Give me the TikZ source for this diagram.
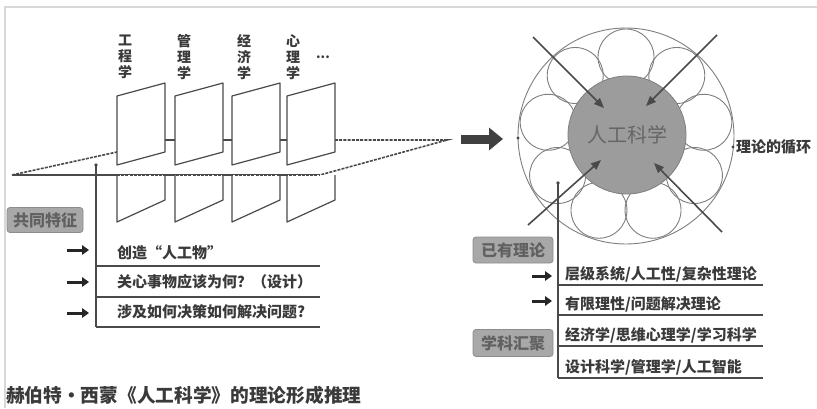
\documentclass[tikz,border=0pt]{standalone}
\usepackage{fontspec}
\setmainfont{Noto Sans CJK SC}
\usetikzlibrary{arrows.meta,calc}
\definecolor{ink}{HTML}{3A3A3A}
\definecolor{linec}{HTML}{4A4A4A}
\definecolor{boxfill}{HTML}{A8A8A8}
\definecolor{boxline}{HTML}{8C8C8C}
\definecolor{corefill}{HTML}{9C9C9C}
\definecolor{framec}{HTML}{D8D8D8}
\definecolor{ringc}{HTML}{7E7E7E}
\begin{document}
\begin{tikzpicture}[x=1pt,y=-1pt,
  panel/.style={draw=linec, line width=1.2pt, fill=white, line join=round},
  plane/.style={draw=linec, line width=1.6pt, dash pattern=on 3pt off 1.2pt},
  rulel/.style={draw=linec, line width=1.4pt},
  tag/.style={rounded corners=3pt, fill=boxfill, draw=boxline, line width=0.8pt, text=black!62,
    font=\fontsize{16}{16}\selectfont\bfseries, minimum height=25pt, inner sep=0pt},
  item/.style={anchor=west, text=ink, font=\fontsize{15}{15}\selectfont\bfseries, inner sep=0pt},
  vlabel/.style={align=center, text=ink, font=\fontsize{14}{16}\selectfont\bfseries, inner sep=0pt},
  bullet/.style={draw=black!85, line width=3pt, -{Triangle[length=7pt,width=9.5pt]}},
  diag/.style={draw=linec, line width=1.6pt, -{Triangle[length=10pt,width=8pt]}},
  bigarrow/.style={draw=black!75, line width=9pt, -{Triangle[length=14pt,width=22pt]}},
  ring/.style={circle, draw=ringc, line width=0.9pt, inner sep=0pt},
  dotf/.style={fill=linec}
]
\useasboundingbox (0,0) rectangle (817,408);
\fill[white] (0,0) rectangle (817,408);
\draw[framec, line width=1.5pt] (5,408) -- (5,7) -- (817,7);

% ---- plane (dashed) ----
\draw[plane] (12,175) -- (117,152);
\draw[plane] (335,140) -- (447,140) -- (320,175) -- (12,175);
\draw[linec, line width=1.6pt] (165,140) -- (175,140) (223,140) -- (232,140) (280,140) -- (287,140);

% ---- panels ----
\foreach \L in {117,175,232,287}{
  \draw[panel] (\L,96) -- (\L+48,83) -- (\L+48,152) -- (\L,165) -- cycle;
  \draw[panel] (\L,175) -- (\L,222) -- (\L+48,200) -- (\L+48,175);
}
\draw[plane] (12,175) -- (320,175);

\node[vlabel] (l1) at (125,57) {工\\程\\学};
\node[vlabel] (l2) at (184,57) {管\\理\\学};
\node[vlabel] (l3) at (244,57) {经\\济\\学};
\node[vlabel] (l4) at (293,57) {心\\理\\学};
\node[text=ink, font=\fontsize{13}{13}\selectfont\bfseries, inner sep=0pt, anchor=base] (dots) at (323,58) {...};

% ---- left list ----
\coordinate (lv) at (96,165);
\fill[dotf] (lv) circle (1.8);
\draw[rulel] (lv) -- (96,327);
\draw[rulel] (96,266) -- (320,266) (96,297) -- (320,297) (96,327) -- (320,327);
\node[tag, minimum width=76pt] (common) at (45,220) {共同特征};
\node[item] (i1) at (117,253) {创造“人工物”};
\node[item] (i2) at (117,282) {关心事物应该为何？（设计）};
\node[item] (i3) at (117,312) {涉及如何决策如何解决问题?};
\foreach \y [count=\i] in {250,282,313}{
  \coordinate (bs\i) at (67,\y); \coordinate (be\i) at (89,\y);
  \draw[bullet] (bs\i) -- (be\i);
}

% ---- big arrow ----
\coordinate (bas) at (461,139);
\coordinate (bae) at (503,139);
\draw[bigarrow] (bas) -- (bae);

% ---- circles ----
\node[ring, minimum size=216pt] (outer) at (626,136) {};
\foreach \k in {0,...,8}{
  \node[ring, minimum size=56pt] (s\k) at ($(626,136)+(-90+40*\k:79)$) {};
}
\node[circle, fill=corefill, draw=ringc, line width=0.8pt, minimum size=118pt, inner sep=0pt,
  text=black!60, font=\fontsize{20}{20}\selectfont] (core) at (627,135) {人工科学};

\coordinate (d1) at (533,37);  \coordinate (t1) at (604,108);
\coordinate (d2) at (717,35);  \coordinate (t2) at (646,106);
\coordinate (d3) at (528,225); \coordinate (t3) at (601,160);
\coordinate (d4) at (722,232); \coordinate (t4) at (654,163);
\foreach \i in {1,2,3,4}{ \draw[diag] (d\i) -- (t\i); }

\coordinate (pl) at (518,138);
\fill[dotf] (pl) circle (1.6);
\coordinate (pr) at (733,147);
\fill[dotf] (pr) circle (1.6);
\node[item, font=\fontsize{15}{15}\selectfont\bfseries] (cycle) at (736,147) {理论的循环};

% ---- right list ----
\coordinate (rv) at (558,183);
\fill[dotf] (rv) circle (1.8);
\draw[rulel] (rv) -- (558,378);
\draw[rulel] (558,285) -- (763,285) (558,315) -- (763,315) (558,346) -- (763,346) (558,378) -- (763,378);
\node[tag, minimum width=80pt, minimum height=26pt] (exist) at (513,250) {已有理论};
\node[tag, minimum width=80pt, minimum height=27pt] (conv) at (513,343) {学科汇聚};
\node[item] (r1) at (565,274) {层级系统/人工性/复杂性理论};
\node[item] (r2) at (565,304) {有限理性/问题解决理论};
\node[item] (r3) at (565,335) {经济学/思维心理学/学习科学};
\node[item] (r4) at (565,367) {设计科学/管理学/人工智能};
\foreach \y [count=\i] in {276,301}{
  \coordinate (rs\i) at (532,\y); \coordinate (re\i) at (552,\y);
  \draw[bullet] (rs\i) -- (re\i);
}

% ---- title ----
\node[anchor=west, text=ink, font=\fontsize{18.7}{20}\selectfont\bfseries, inner sep=0pt] (title) at (6,395) {赫伯特·西蒙《人工科学》的理论形成推理};
\end{tikzpicture}
\end{document}
